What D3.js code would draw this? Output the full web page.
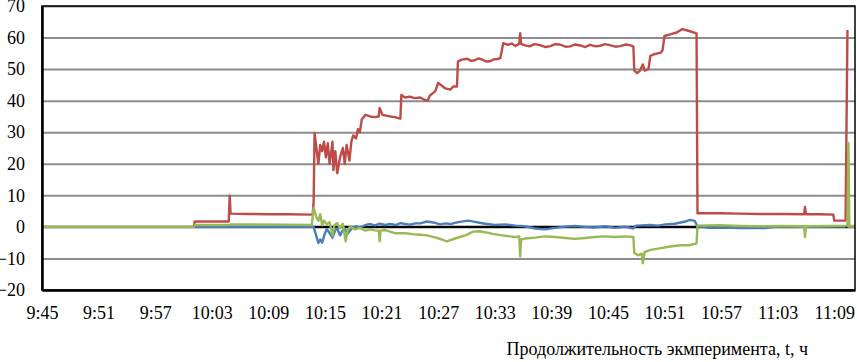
<!DOCTYPE html>
<html>
<head>
<meta charset="utf-8">
<script src="https://cdn.jsdelivr.net/npm/d3@7"></script>
<style>
  body { margin: 0; background: #fff; }
  text { font-family: "Liberation Serif", "Times New Roman", serif; fill: #000; }
</style>
</head>
<body>
<script>
// Time in minutes after 9:45
const timeLabels = ["9:45","9:51","9:57","10:03","10:09","10:15","10:21","10:27","10:33","10:39","10:45","10:51","10:57","11:03","11:09"];
const yTicks = [-20,-10,0,10,20,30,40,50,60,70];

const blackT = [16.2, 85.4];
const blackV = [0, 0];

const blueT = [0, 28.8, 29.1, 29.3, 29.5, 29.7, 30.0, 30.2, 30.5, 30.8, 31.1, 31.3, 31.6, 31.8, 32.1, 32.4, 32.9, 33.3, 33.7, 34.3, 34.8, 35.3, 35.8, 36.4, 36.9, 37.5, 38.0, 38.5, 39.0, 39.6, 40.1, 40.8, 41.5, 42.2, 42.8, 43.3, 43.8, 44.3, 45.2, 45.9, 46.4, 47.0, 48.0, 49.1, 50.2, 51.2, 52.3, 53.3, 54.4, 55.5, 56.5, 57.6, 58.6, 59.7, 60.8, 61.8, 62.7, 63.0, 64.5, 65.3, 66.1, 67.1, 68.2, 68.7, 69.2, 69.5, 70.8, 72.4, 74.0, 75.4, 76.7, 77.7, 79.0, 80.4, 82.8, 85.2];
const blueV = [0, 0, -3, -5.1, -4, -5, -2, -0.7, -2, -3.4, -1, -0.5, -2.7, -1.5, -0.5, -2.2, -0.3, 0.2, -0.2, 0.6, 0.9, 0.5, 1.0, 0.6, 0.9, 0.6, 1.2, 0.9, 0.7, 1.1, 1.1, 1.7, 1.4, 0.8, 1.1, 0.9, 1.3, 1.6, 2.0, 1.6, 1.3, 1.0, 0.6, 0.8, 0.4, 0.2, -0.5, -0.8, -0.3, 0.1, 0.3, 0.0, -0.2, 0.2, -0.3, 0.1, -0.5, 0.4, 0.6, 0.4, 0.8, 1.0, 1.7, 2.2, 1.9, 0.2, -0.3, -0.2, -0.4, -0.3, -0.4, 0, 0.2, 0, 0.1, 0.1];

const redT = [0, 16.1, 16.2, 19.8, 19.9, 20.0, 22.0, 24.0, 26.0, 28.7, 28.8, 28.9, 29.3, 29.5, 29.7, 29.9, 30.1, 30.3, 30.5, 30.8, 30.9, 31.1, 31.3, 31.6, 31.9, 32.1, 32.3, 32.6, 32.8, 33.0, 33.3, 33.5, 33.7, 33.9, 34.3, 34.8, 35.3, 35.7, 35.8, 36.1, 36.9, 37.4, 38.0, 38.1, 38.5, 39.0, 39.5, 40.1, 40.6, 40.9, 41.1, 41.7, 42.0, 42.3, 42.7, 43.3, 43.6, 44.0, 44.1, 44.5, 45.1, 45.5, 45.9, 46.3, 46.7, 47.1, 47.5, 47.9, 48.3, 48.6, 48.9, 49.4, 49.8, 50.2, 50.6, 50.7, 50.8, 51.2, 51.7, 52.2, 52.8, 53.4, 53.9, 54.4, 54.9, 55.5, 56.0, 56.5, 57.1, 57.6, 58.1, 58.7, 59.2, 59.7, 60.2, 60.8, 61.3, 61.9, 62.4, 62.7, 62.8, 63.1, 63.4, 63.7, 63.9, 64.3, 64.5, 65.0, 65.6, 65.8, 66.0, 66.6, 67.3, 67.9, 68.7, 69.4, 69.5, 69.8, 71.9, 74.0, 76.1, 78.3, 80.8, 80.9, 81.0, 82.5, 83.9, 84.0, 85.2, 85.4];
const redV = [0, 0, 1.7, 1.7, 9.9, 4.2, 4.1, 4.0, 4.0, 3.9, 8, 29.8, 20, 26, 24, 27, 22, 26.5, 20, 27, 18, 24, 17, 22, 25, 20, 26, 21, 27, 29, 28, 31, 30, 34, 35.5, 35, 34.8, 35, 37.7, 35.5, 35, 34.8, 34.3, 41.8, 41, 41.3, 40.8, 41, 40.2, 40, 41.5, 43, 45.6, 45, 44, 43.5, 44.5, 44.5, 52.4, 53, 53.3, 52.6, 52.8, 53.4, 53, 52.4, 52.5, 53.1, 53.2, 53.5, 58.2, 57.7, 58.1, 57.3, 58, 61.4, 58, 57.5, 57.2, 57.9, 57.6, 57.0, 57.3, 57.9, 57.8, 57.1, 57.2, 57.8, 57.5, 57.0, 57.7, 57.2, 57.4, 57.9, 57.6, 57.1, 57.3, 57.8, 57.5, 57.2, 49.5, 48.7, 49.5, 51.5, 49.5, 50, 54.2, 54.8, 55.2, 56, 60.5, 61, 61.6, 62.7, 62, 61.3, 4.3, 4.3, 4.3, 4.2, 4.1, 4.1, 4.0, 6.3, 4.0, 4.0, 3.9, 2.0, 2.0, 62.4];

const greenT = [0, 16.1, 16.2, 19.8, 20.0, 28.6, 28.8, 29.1, 29.3, 29.5, 29.7, 29.9, 30.2, 30.5, 30.8, 31.0, 31.3, 31.6, 31.9, 32.2, 32.4, 32.7, 33.2, 33.7, 34.3, 34.8, 35.3, 35.7, 35.8, 35.9, 36.4, 36.9, 37.4, 38.5, 39.3, 40.1, 40.8, 41.7, 42.4, 42.9, 43.5, 44.3, 44.9, 45.7, 46.4, 47.2, 47.8, 48.6, 49.1, 49.6, 50.2, 50.6, 50.7, 50.8, 51.2, 52.3, 53.3, 54.4, 55.5, 56.5, 57.6, 58.6, 59.7, 60.8, 61.8, 62.7, 62.8, 63.2, 63.6, 63.7, 63.9, 64.5, 65.5, 66.6, 67.7, 68.7, 69.2, 69.4, 69.5, 71.9, 74.0, 76.1, 78.3, 80.8, 80.9, 81.0, 83.6, 85.4, 85.5, 85.6, 86.2];
const greenV = [0, 0, 0.6, 0.6, 0.8, 0.6, 6, 3, 1.9, 4, 0.5, 2, 0.8, 1.5, -2.7, 0.5, 1.2, -0.5, 1, -4.6, -1, 0.2, -0.8, -0.3, -1.2, -0.8, -1.1, -1.2, -4.6, -1.2, -1.0, -1.5, -2.0, -2.0, -2.3, -2.5, -2.7, -3.3, -4.0, -4.6, -4.0, -3.2, -2.7, -1.5, -1.4, -1.8, -2.2, -2.6, -2.8, -3.0, -3.2, -3.0, -9.4, -4, -3.7, -3.4, -3.0, -3.2, -3.5, -3.8, -3.5, -3.2, -3.0, -3.2, -3.0, -3.2, -8.3, -9, -8.5, -11.5, -8, -7.3, -6.8, -6.2, -5.8, -5.8, -5.4, -5.2, 0.4, 0.5, 0.3, 0.2, 0.3, 0.2, -3.2, 0.2, 0.3, 0.4, 26.6, 0.3, 0.3];

const W = 857, H = 362;
const plotL = 42, plotR = 855, plotT = 6, plotB = 290;

const svg = d3.select("body").append("svg")
  .attr("width", W)
  .attr("height", H);

const x = d3.scaleLinear().domain([0, 86.2]).range([plotL, plotR]);
const y = d3.scaleLinear().domain([-20, 70]).range([plotB, plotT]);

// gridlines
svg.append("g")
  .attr("transform", `translate(${plotL},0)`)
  .call(d3.axisLeft(y).tickValues(yTicks).tickSize(-(plotR - plotL)).tickFormat(""))
  .call(g => g.select(".domain").remove())
  .call(g => g.selectAll("line").attr("stroke", "#8c8c8c").attr("stroke-width", 2));

// series
const line = d3.line().x(d => x(d[0])).y(d => y(d[1]));
const series = [
  { t: blackT, v: blackV, color: "#000000" },
  { t: blueT, v: blueV, color: "#4a7ebb" },
  { t: redT, v: redV, color: "#be4b48" },
  { t: greenT, v: greenV, color: "#98b954" }
];
series.forEach(s => {
  svg.append("path")
    .datum(s.t.map((t, i) => [t, s.v[i]]))
    .attr("fill", "none")
    .attr("stroke", s.color)
    .attr("stroke-width", 2.4)
    .attr("stroke-linejoin", "round")
    .attr("d", line);
});

// plot frame
svg.append("rect")
  .attr("x", plotL).attr("y", plotT)
  .attr("width", plotR - plotL).attr("height", plotB - plotT)
  .attr("fill", "none").attr("stroke", "#000").attr("stroke-width", 1.5);

// y axis
svg.append("g")
  .attr("transform", `translate(${plotL},0)`)
  .call(d3.axisLeft(y).tickValues(yTicks).tickSize(0).tickPadding(17))
  .call(g => g.select(".domain").attr("stroke", "#000").attr("stroke-width", 2.5))
  .call(g => g.selectAll("text").attr("font-size", 18).attr("font-family", "Liberation Serif"));

// x axis
svg.append("g")
  .attr("transform", `translate(0,${plotB})`)
  .call(d3.axisBottom(x).tickValues(timeLabels.map((d, i) => i * 6)).tickSize(0).tickPadding(16)
    .tickFormat((d, i) => timeLabels[i]))
  .call(g => g.select(".domain").attr("stroke", "#000").attr("stroke-width", 2.5))
  .call(g => g.selectAll("text").attr("font-size", 18).attr("font-family", "Liberation Serif"));

// axis title
svg.append("text")
  .attr("x", 808)
  .attr("y", 355)
  .attr("text-anchor", "end")
  .attr("font-size", 18)
  .text("Продолжительность экмперимента, t, ч");
</script>
</body>
</html>
